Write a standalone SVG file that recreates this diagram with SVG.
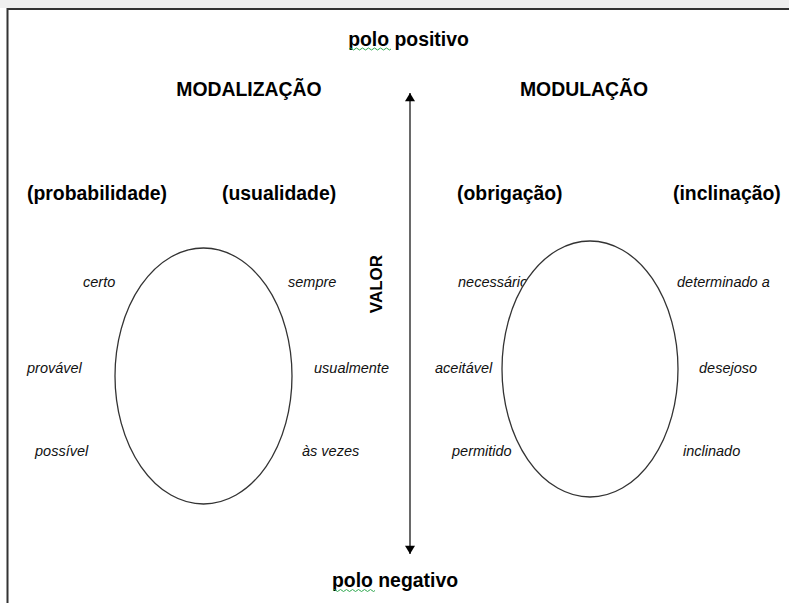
<svg xmlns="http://www.w3.org/2000/svg" width="789" height="603" viewBox="0 0 789 603">
  <defs>
    <style>
      .head { font-family: "Liberation Sans", Arial, sans-serif; font-weight: bold; font-size: 19.4px; fill: #000; }
      .item { font-family: "Liberation Sans", Arial, sans-serif; font-style: italic; font-size: 14.5px; fill: #111; }
      .ring { fill: #fff; stroke: #333; stroke-width: 1.3; }
      .axis { stroke: #444; stroke-width: 1.6; fill: none; }
      .spell { stroke: #2fa84f; stroke-width: 1; fill: none; }
    </style>
    <marker id="tip" viewBox="0 0 10 12" refX="10" refY="6" markerWidth="12" markerHeight="10" markerUnits="userSpaceOnUse" orient="auto">
      <path d="M0,0 L10,6 L0,12 Z" fill="#000"/>
    </marker>
  </defs>

  <!-- page background and frame -->
  <rect x="0" y="0" width="789" height="603" fill="#fff"/>
  <rect x="0" y="0" width="789" height="8" fill="#efefef"/>
  <path d="M7.5,603 V9 H789" stroke="#333" stroke-width="2" fill="none"/>

  <!-- poles -->
  <g id="polo-positivo">
    <text class="head" x="408.5" y="45.5" text-anchor="middle">polo positivo</text>
    <path class="spell" d="M349,49 q1.5,-2 3,0 t3,0 t3,0 t3,0 t3,0 t3,0 t3,0 t3,0 t3,0 t3,0 t3,0 t3,0 t3,0 t3,0"/>
  </g>
  <g id="polo-negativo">
    <text class="head" x="395" y="587" text-anchor="middle">polo negativo</text>
    <path class="spell" d="M333,590.5 q1.5,-2 3,0 t3,0 t3,0 t3,0 t3,0 t3,0 t3,0 t3,0 t3,0 t3,0 t3,0 t3,0 t3,0 t3,0"/>
  </g>

  <!-- value axis -->
  <g id="connectors">
    <line class="axis" x1="410" y1="300" x2="410" y2="93" marker-end="url(#tip)"/>
    <line class="axis" x1="410" y1="300" x2="410" y2="554" marker-end="url(#tip)"/>
  </g>
  <g id="valor">
    <text class="head" style="font-size:17px" transform="translate(382,284) rotate(-90)" text-anchor="middle">VALOR</text>
  </g>

  <!-- modalization side -->
  <g id="modalizacao">
    <text class="head" x="249" y="96" text-anchor="middle">MODALIZAÇÃO</text>
    <text class="head" x="27" y="200">(probabilidade)</text>
    <text class="head" x="222" y="200">(usualidade)</text>
    <text class="item" x="83" y="287">certo</text>
    <text class="item" x="27" y="373">provável</text>
    <text class="item" x="35" y="456">possível</text>
    <text class="item" x="288" y="287">sempre</text>
    <text class="item" x="314" y="373">usualmente</text>
    <text class="item" x="302" y="456">às vezes</text>
    <ellipse class="ring" cx="203.5" cy="376" rx="88.5" ry="128"/>
  </g>

  <!-- modulation side -->
  <g id="modulacao">
    <text class="head" x="584" y="96" text-anchor="middle">MODULAÇÃO</text>
    <text class="head" x="457" y="200">(obrigação)</text>
    <text class="head" x="673" y="200">(inclinação)</text>
    <text class="item" x="458" y="287">necessário</text>
    <text class="item" x="435" y="373">aceitável</text>
    <text class="item" x="452" y="456">permitido</text>
    <text class="item" x="677" y="287">determinado a</text>
    <text class="item" x="699" y="373">desejoso</text>
    <text class="item" x="683" y="456">inclinado</text>
    <ellipse class="ring" cx="590" cy="369" rx="88" ry="128"/>
  </g>
</svg>
